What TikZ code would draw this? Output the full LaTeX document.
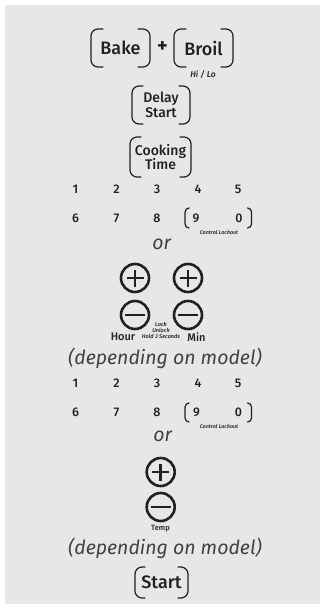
\documentclass[tikz,border=0pt]{standalone}
\usepackage{fontspec}
\setmainfont{Fira Sans}
\newfontfamily\med{Fira Sans Medium}
\definecolor{bg}{HTML}{E6E7E8}
\definecolor{ink}{HTML}{231F20}
\tikzset{
  every node/.style={text=ink, inner sep=0pt, outer sep=0pt},
  btn/.style={align=center, font=\med\fontsize{18}{18}\selectfont},
  btntwo/.style={align=center, font=\med\fontsize{14}{14.5}\selectfont},
  brk/.style={draw=ink, line width=1.2pt, line cap=round},
  digit/.style={font=\med\fontsize{12.5}{12.5}\selectfont},
  tiny/.style={font=\med\itshape\fontsize{5.4}{6}\selectfont},
  keylabel/.style={font=\med\fontsize{11}{11}\selectfont},
  bigit/.style={font=\itshape\fontsize{19.5}{20}\selectfont, text=ink!85},
  roundkey/.style={circle, draw=ink, line width=2.6pt, minimum size=28},
  pluskey/.style={roundkey, path picture={
      \draw[ink, line width=2.6pt] ([xshift=-8.5pt]path picture bounding box.center) -- ([xshift=8.5pt]path picture bounding box.center);
      \draw[ink, line width=2.6pt] ([yshift=-8.5pt]path picture bounding box.center) -- ([yshift=8.5pt]path picture bounding box.center);}},
  minuskey/.style={roundkey, path picture={
      \draw[ink, line width=2.6pt] ([xshift=-10pt]path picture bounding box.center) -- ([xshift=10pt]path picture bounding box.center);}}
}
\newcommand\drawbrk[3]{%
  \draw[brk, rounded corners=#3] ([xshift=#2]#1.north west) -- (#1.north west) -- (#1.south west) -- ([xshift=#2]#1.south west);
  \draw[brk, rounded corners=#3] ([xshift=-#2]#1.north east) -- (#1.north east) -- (#1.south east) -- ([xshift=-#2]#1.south east);}
\begin{document}
\begin{tikzpicture}[x=1pt, y=-1pt]
\useasboundingbox (0,0) rectangle (321,608);
\fill[white] (0,0) rectangle (321,608);
\fill[bg] (5,5) rectangle (320,604);

% top buttons
\node[btn, minimum width=59, minimum height=38] (bake) at (120.5,48) {Bake};
\node[font=\bfseries\fontsize{20}{20}\selectfont] (plus) at (162.5,47.5) {+};
\node[btn, minimum width=59, minimum height=38] (broil) at (203.5,48) {Broil};
\node[font=\med\itshape\fontsize{8.5}{9}\selectfont] (hilo) at (203,75) {Hi / Lo};
\drawbrk{bake}{12}{7}
\drawbrk{broil}{12}{7}

\node[btntwo, minimum width=58, minimum height=38] (delay) at (161,105) {Delay\\Start};
\drawbrk{delay}{11}{7}
\node[btntwo, minimum width=61, minimum height=40] (cook) at (160.5,157) {Cooking\\Time};
\drawbrk{cook}{11}{7}

% first number block
\node[digit] (a1) at (75.5,189) {1};
\node[digit] (a2) at (116.5,189) {2};
\node[digit] (a3) at (157,189) {3};
\node[digit] (a4) at (198,189) {4};
\node[digit] (a5) at (238,189) {5};
\node[digit] (a6) at (75.5,218) {6};
\node[digit] (a7) at (116.5,218) {7};
\node[digit] (a8) at (157,218) {8};
\node[digit] (a9) at (196,218) {9};
\node[digit] (a0) at (239,218) {0};
\node[minimum width=66.5, minimum height=20] (lockA) at (218.3,218) {};
\drawbrk{lockA}{4}{4}
\node[tiny] (clA) at (219,232.5) {Control Lockout};

\node[bigit] (orA) at (161.7,244) {or};

% clock keys
\node[pluskey] (hplus) at (135,278) {};
\node[pluskey] (mplus) at (188,278) {};
\node[minuskey] (hminus) at (135,315) {};
\node[minuskey] (mminus) at (188,315) {};
\node[keylabel] (hour) at (123,337) {Hour};
\node[keylabel] (min) at (196.5,337) {Min};
\node[tiny, align=center, font=\med\itshape\fontsize{5.6}{6.3}\selectfont] (lock) at (161,330.5) {Lock\\Unlock\\Hold 3 Seconds};

\node[bigit] (depA) at (165,358) {(depending on model)};

% second number block
\node[digit] (b1) at (75.5,383) {1};
\node[digit] (b2) at (116.5,383) {2};
\node[digit] (b3) at (157,383) {3};
\node[digit] (b4) at (198,383) {4};
\node[digit] (b5) at (238,383) {5};
\node[digit] (b6) at (75.5,412) {6};
\node[digit] (b7) at (116.5,412) {7};
\node[digit] (b8) at (157,412) {8};
\node[digit] (b9) at (196.5,412) {9};
\node[digit] (b0) at (238.5,412) {0};
\node[minimum width=66.5, minimum height=19] (lockB) at (218.3,412.5) {};
\drawbrk{lockB}{4}{4}
\node[tiny] (clB) at (219,426) {Control Lockout};

\node[bigit] (orB) at (162.7,436) {or};

% temp keys
\node[pluskey] (tplus) at (160.7,472) {};
\node[minuskey] (tminus) at (160.7,507) {};
\node[font=\med\fontsize{7.5}{8}\selectfont] (temp) at (160.5,529) {Temp};

\node[bigit] (depB) at (165,548) {(depending on model)};

\node[btn, minimum width=53, minimum height=31] (start) at (161.5,582.5) {Start};
\drawbrk{start}{10}{7}
\end{tikzpicture}
\end{document}
